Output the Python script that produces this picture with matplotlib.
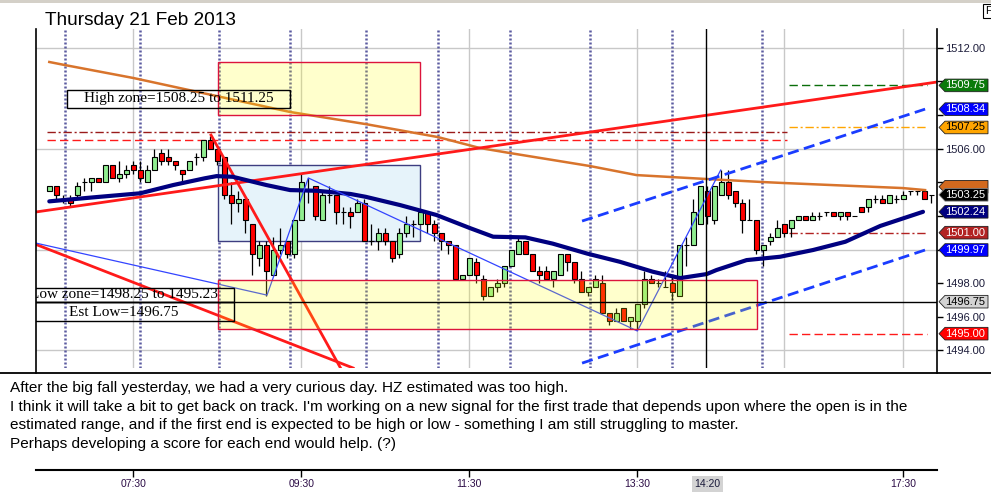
import numpy as np
import matplotlib
matplotlib.use("Agg")
import matplotlib.pyplot as plt
import matplotlib.transforms as mtransforms
from matplotlib.patches import Rectangle, Polygon
from matplotlib.lines import Line2D

plt.rcParams["font.family"] = ["Liberation Sans", "DejaVu Sans"]

W, H = 991, 498


def fx(px):
    return px / W


def fy(py):
    return 1 - py / H


# ---- data: 5 minute bars (bar index 0 = 06:30) ----
opens = [1503.5, 1503.75, 1503.0, 1503.0, 1503.25, 1504.0, 1504.0, 1504.25, 1504.0, 1505.0,
         1504.25, 1504.5, 1505.0, 1504.75, 1504.0, 1504.75, 1505.75, 1505.5, 1505.25, 1504.75,
         1504.75, 1505.5, 1505.5, 1506.5, 1506.0, 1505.5, 1503.25, 1502.75, 1503.0, 1501.5,
         1499.5, 1500.25, 1498.5, 1500.0, 1500.5, 1499.75, 1501.75, 1503.5, 1503.75, 1501.75,
         1503.25, 1503.25, 1502.25, 1502.25, 1502.25, 1502.75, 1500.5, 1500.5, 1501.0, 1500.5,
         1499.75, 1501.0, 1501.5, 1501.5, 1502.25, 1501.5, 1501.0, 1500.5, 1500.25, 1498.25,
         1498.5, 1499.25, 1498.25, 1497.25, 1497.75, 1498.0, 1499.0, 1499.75, 1500.5, 1499.75,
         1498.75, 1498.75, 1498.25, 1498.5, 1499.75, 1499.25, 1498.25, 1497.5, 1497.75, 1498.0,
         1496.25, 1495.75, 1496.5, 1495.75, 1495.75, 1496.75, 1498.25, 1498.0, 1497.75, 1498.0,
         1497.25, 1500.25, 1500.25, 1501.5, 1503.5, 1501.75, 1503.25, 1504.0, 1503.5, 1502.75,
         1501.75, 1501.75, 1500.0, 1500.5, 1500.75, 1501.5, 1501.25, 1501.75, 1502.0, 1501.75,
         1502.0, 1502.25, 1502.25, 1502.0, 1502.25, 1502.0, 1502.5, 1502.5, 1503.0, 1503.0,
         1502.75, 1503.0, 1503.0, 1503.5, 1503.5, 1503.5, 1503.25]
highs = [1503.75, 1503.75, 1503.25, 1503.25, 1504.0, 1504.25, 1504.25, 1504.25, 1505.0, 1505.0,
         1505.25, 1505.0, 1505.25, 1505.25, 1505.0, 1506.0, 1506.0, 1506.0, 1505.25, 1504.75,
         1505.25, 1505.75, 1506.5, 1506.75, 1506.0, 1505.5, 1504.0, 1503.5, 1503.0, 1501.5,
         1500.5, 1500.5, 1500.75, 1501.25, 1500.5, 1501.75, 1504.5, 1504.25, 1503.75, 1503.5,
         1503.75, 1503.25, 1502.5, 1502.5, 1503.0, 1503.0, 1501.5, 1501.25, 1501.25, 1500.5,
         1501.25, 1502.0, 1501.75, 1502.25, 1502.25, 1501.75, 1501.0, 1500.5, 1500.25, 1498.5,
         1499.5, 1499.5, 1498.5, 1497.75, 1498.25, 1499.0, 1500.0, 1500.75, 1500.5, 1499.75,
         1499.0, 1499.0, 1498.75, 1499.75, 1499.75, 1499.25, 1498.75, 1497.75, 1498.5, 1498.5,
         1496.25, 1496.5, 1496.5, 1496.0, 1496.75, 1498.75, 1498.5, 1498.25, 1498.75, 1498.5,
         1500.25, 1500.75, 1503.0, 1503.75, 1503.75, 1503.75, 1504.75, 1504.75, 1503.5, 1503.0,
         1503.0, 1501.75, 1500.25, 1501.0, 1501.75, 1501.5, 1501.75, 1502.0, 1502.0, 1502.25,
         1502.25, 1502.25, 1502.25, 1502.25, 1502.25, 1502.0, 1502.5, 1503.0, 1503.25, 1503.25,
         1503.25, 1503.25, 1503.5, 1503.5, 1503.5, 1503.5, 1503.25]
lows = [1503.5, 1503.0, 1502.75, 1502.5, 1503.0, 1503.5, 1503.5, 1504.0, 1504.0, 1504.25,
        1504.0, 1504.25, 1504.5, 1504.0, 1504.0, 1504.75, 1505.0, 1505.0, 1504.75, 1504.0,
        1504.75, 1505.0, 1505.25, 1506.0, 1505.0, 1503.0, 1501.5, 1502.25, 1501.0, 1498.5,
        1499.0, 1497.25, 1498.5, 1499.75, 1499.5, 1499.5, 1501.75, 1502.75, 1501.75, 1501.75,
        1502.75, 1501.5, 1501.5, 1501.25, 1502.25, 1500.5, 1500.25, 1500.0, 1500.25, 1499.25,
        1499.5, 1500.75, 1500.75, 1501.5, 1501.0, 1500.5, 1500.0, 1499.75, 1498.25, 1498.25,
        1498.5, 1498.0, 1497.0, 1497.25, 1497.5, 1497.75, 1499.0, 1499.75, 1499.75, 1498.75,
        1498.0, 1498.25, 1497.75, 1498.5, 1498.75, 1498.0, 1497.5, 1497.25, 1497.75, 1496.25,
        1495.5, 1495.75, 1495.75, 1495.25, 1495.25, 1496.5, 1498.0, 1497.75, 1497.75, 1497.0,
        1497.25, 1499.0, 1500.25, 1501.5, 1501.5, 1501.5, 1503.25, 1503.0, 1502.5, 1501.0,
        1501.75, 1499.75, 1499.0, 1500.25, 1500.75, 1500.75, 1500.75, 1501.75, 1501.75, 1501.75,
        1501.75, 1502.0, 1502.0, 1501.75, 1501.75, 1502.0, 1502.25, 1502.25, 1502.75, 1502.75,
        1502.75, 1502.75, 1503.0, 1503.25, 1503.25, 1503.0, 1502.75]
closes = [1503.75, 1503.25, 1503.0, 1502.75, 1503.75, 1504.0, 1504.25, 1504.0, 1505.0, 1504.25,
          1504.5, 1504.75, 1504.75, 1504.25, 1504.75, 1505.5, 1505.25, 1505.25, 1505.0, 1504.5,
          1505.25, 1505.5, 1506.5, 1506.0, 1505.25, 1503.25, 1502.75, 1503.0, 1501.75, 1499.75,
          1500.25, 1498.75, 1500.0, 1500.25, 1499.75, 1501.75, 1504.0, 1503.5, 1502.0, 1503.25,
          1503.25, 1502.25, 1502.25, 1502.0, 1502.75, 1500.5, 1500.5, 1501.0, 1500.5, 1499.5,
          1501.0, 1501.5, 1501.5, 1502.25, 1501.5, 1501.0, 1500.5, 1500.25, 1498.25, 1498.5,
          1499.5, 1498.5, 1497.25, 1497.75, 1498.0, 1499.0, 1500.0, 1500.5, 1499.75, 1498.75,
          1498.5, 1498.25, 1498.75, 1499.75, 1499.25, 1498.25, 1497.5, 1497.75, 1498.25, 1496.25,
          1495.75, 1496.25, 1495.75, 1496.0, 1496.75, 1498.25, 1498.0, 1498.0, 1497.75, 1497.5,
          1500.25, 1500.25, 1502.25, 1503.75, 1502.0, 1503.75, 1504.0, 1503.25, 1502.75, 1501.75,
          1501.75, 1500.0, 1500.25, 1500.75, 1501.25, 1501.0, 1501.75, 1502.0, 1501.75, 1502.0,
          1502.0, 1502.25, 1502.0, 1502.25, 1502.0, 1502.0, 1502.25, 1503.0, 1503.0, 1502.75,
          1503.25, 1503.0, 1503.25, 1503.5, 1503.5, 1503.0, 1503.25]

# moving averages (vertices)
fast_ma_x = [0, 5.8, 13, 17.7, 22.2, 23.9, 26.2, 31, 34.4, 38.2, 43, 45.2, 50.1, 55.3, 60.1,
             63.4, 68, 71.9, 76.8, 81.5, 86.2, 90.1, 93.9, 95.3, 99.6, 104.4, 109.1, 113.7,
             118.7, 124.8]
fast_ma_y = [1502.86, 1503.08, 1503.34, 1503.83, 1504.23, 1504.36, 1504.32, 1503.83, 1503.53,
             1503.49, 1503.3, 1503.13, 1502.64, 1502.05, 1501.27, 1500.76, 1500.72, 1500.35,
             1499.76, 1499.27, 1498.68, 1498.3, 1498.54, 1498.78, 1499.37, 1499.57, 1499.97,
             1500.46, 1501.4, 1502.24]
slow_ma_x = [0, 2.2, 12, 34.4, 45.2, 55.5, 61.5, 65.8, 77.2, 83.9, 93.8, 101.8, 104.9, 121.9, 125.1]
slow_ma_y = [1511.14, 1510.96, 1510.19, 1508.17, 1507.45, 1506.68, 1506.03, 1505.73, 1504.96,
             1504.42, 1504.19, 1504.01, 1503.95, 1503.65, 1503.53]

# drawn trend lines
red_trend_x = [-1.9, 126.8]
red_trend_y = [1502.23, 1509.95]
red_low_x = [-1.9, 43.4]
red_low_y = [1500.3, 1492.96]
red_steep_x = [23.1, 41.6]
red_steep_y = [1506.8, 1492.96]
zigzag_x = [-1.9, 31.1, 37.0, 84.0, 95.9]
zigzag_y = [1500.38, 1497.29, 1504.25, 1495.16, 1504.72]
channel_x = [76.1, 125.1]
channel_top_y = [1501.69, 1508.34]
channel_bot_y = [1493.25, 1499.97]

# horizontal levels: price, start bar, end bar
level_prices = [1507.0, 1506.5, 1509.75, 1507.25, 1501.0, 1495.0]
level_start = [-0.3, -0.3, 105.7, 105.7, 105.7, 105.7]
level_end = [105.4, 105.4, 125.4, 125.4, 125.4, 125.4]
level_colors = ["#9b1b1b", "#ff1a1a", "#0a6e0a", "#ffa500", "#b22222", "#ff1a1a"]
level_styles = [(0, (6, 2, 1.5, 2)), (0, (6, 3)), (0, (6, 3)),
                (0, (6, 2, 1.5, 2)), (0, (6, 2, 1.5, 2)), (0, (6, 3))]

# zones
high_zone = (1508.0, 1511.15)
mid_zone = (1500.5, 1505.02)
low_zone = (1495.25, 1498.2)
zone_start = 24.15
zone_end_short = 53.0
zone_end_long = 101.1

session_lines = [2.24, 12.96, 24.24, 34.39, 45.24, 55.53, 65.81, 77.24, 88.96, 101.81]
grid_x = [12, 36, 60, 84, 105, 122]
grid_y = [1494, 1500, 1506, 1512]
cross_x = 93.85
cross_y = 1496.9

price_ticks = [1494, 1496, 1498, 1500, 1502, 1504, 1506, 1508, 1510, 1512]
hidden_ticks = [1500, 1502, 1504, 1508, 1510]  # sit under the price tags

tag_prices = [1509.75, 1508.34, 1507.25, 1503.73, 1503.25, 1502.24, 1501.0, 1499.97, 1496.9, 1495.0]
tag_labels = ["1509.75", "1508.34", "1507.25", "", "1503.25", "1502.24", "1501.00",
              "1499.97", "1496.75", "1495.00"]
tag_colors = ["#0a7a0a", "#0000ff", "#ffa500", "#d2691e", "#000000", "#000080", "#b22222",
              "#0000ff", "#d3d3d3", "#ff0000"]
tag_text = ["white", "white", "black", "white", "white", "white", "white", "white", "black", "white"]

time_pos = [12, 36, 60, 84, 122]
time_labels = ["07:30", "09:30", "11:30", "13:30", "17:30"]
cursor_label = "14:20"

notes = [
    "After the big fall yesterday, we had a very curious day. HZ estimated was too high.",
    "I think it will take a bit to get back on track. I'm working on a new signal for the first trade that depends upon where the open is in the",
    "estimated range, and if the first end is expected to be high or low - something I am still struggling to master.",
    "Perhaps developing a score for each end would help. (?)",
]

# ---- figure ----
fig = plt.figure(figsize=(W / 100, H / 100), dpi=100)
fig.patch.set_facecolor("white")

ax = fig.add_axes([fx(36), fy(368), fx(937) - fx(36), fy(29) - fy(368)])
for s in ax.spines.values():
    s.set_visible(False)
ax.set_xticks([])
ax.yaxis.tick_right()
ax.set_yticks(price_ticks)
ax.set_yticklabels(["" if t in hidden_ticks else "%.2f" % t for t in price_ticks])
ax.tick_params(axis="y", length=4, width=1, pad=2, labelsize=8, labelcolor="#1c1c3a")

for g in grid_x:
    ax.axvline(g, color="#c8c8c8", lw=1, zorder=0.5)
for g in grid_y:
    ax.axhline(g, color="#c8c8c8", lw=1, zorder=0.5)
for v in session_lines:
    ax.axvline(v, color="#5b5ba0", lw=1.8, ls=(0, (0.8, 0.8)), zorder=1)

ax.add_patch(Rectangle((zone_start, mid_zone[0]), zone_end_short - zone_start,
                       mid_zone[1] - mid_zone[0], fc="#e6f3fa", ec="#3d3d80", lw=1, zorder=1.5))

for p, x0, x1, c, ls in zip(level_prices, level_start, level_end, level_colors, level_styles):
    ax.hlines(p, x0, x1, colors=c, linestyles=[ls], lw=1, zorder=2)

# candles
o = np.array(opens)
h = np.array(highs)
l = np.array(lows)
c = np.array(closes)
idx = np.arange(len(o))
body_col = np.where(c > o, "#90ee90", np.where(c < o, "#ff0000", "black"))
ax.vlines(idx, l, h, color="black", lw=0.9, zorder=3)
ax.bar(idx, c - o, bottom=o, width=0.7, color=body_col, edgecolor="black", linewidth=0.8, zorder=3.2)

ax.plot(slow_ma_x, slow_ma_y, color="#d8742c", lw=1.8, zorder=4)
ax.plot(fast_ma_x, fast_ma_y, color="#000080", lw=3, zorder=4.2, solid_capstyle="round")
ax.plot(red_trend_x, red_trend_y, color="#ff1a1a", lw=2, zorder=4.1)
ax.plot(red_low_x, red_low_y, color="#ff1a1a", lw=2, zorder=4.1)
ax.plot(red_steep_x, red_steep_y, color="#ff1a1a", lw=2, zorder=4.1)
ax.plot(zigzag_x, zigzag_y, color="#3344ff", lw=0.9, zorder=4.3)
ax.plot(channel_x, channel_top_y, color="#1a3cff", lw=2, ls=(0, (4, 2)), zorder=4.3)
ax.plot(channel_x, channel_bot_y, color="#1a3cff", lw=2, ls=(0, (4, 2)), zorder=4.3)

ax.add_patch(Rectangle((zone_start, high_zone[0]), zone_end_short - zone_start,
                       high_zone[1] - high_zone[0], fc=(1, 1, 0, 0.2), ec="#dc143c", lw=1, zorder=5))
ax.add_patch(Rectangle((zone_start, low_zone[0]), zone_end_long - zone_start,
                       low_zone[1] - low_zone[0], fc=(1, 1, 0, 0.2), ec="#dc143c", lw=1, zorder=5))

ax.axvline(cross_x, color="black", lw=1, zorder=5.5)
ax.axhline(cross_y, color="black", lw=1, zorder=5.5)

# annotation boxes
serif = ["Liberation Serif", "DejaVu Serif"]
ax.add_patch(Rectangle((2.5, 1508.41), 31.9, 1.06, fc="none", ec="black", lw=1, zorder=6))
ax.text(18.5, 1508.95, "High zone=1508.25 to 1511.25", family=serif, fontsize=11,
        ha="center", va="center", zorder=6)
ax.add_patch(Rectangle((-5.2, 1496.88), 31.6, 0.83, fc="none", ec="black", lw=1, zorder=6))
ax.add_patch(Rectangle((-5.2, 1495.75), 31.6, 1.13, fc="none", ec="black", lw=1, zorder=6))
ax.text(10.6, 1497.3, "Low zone=1498.25 to 1495.23", family=serif, fontsize=11,
        ha="center", va="center", zorder=6, clip_on=True)
ax.text(10.6, 1496.28, "Est Low=1496.75", family=serif, fontsize=11,
        ha="center", va="center", zorder=6, clip_on=True)

ax.set_xlim(-1.9, 126.8)
ax.set_ylim(1492.96, 1513.1)

# price tags on the right axis
trans = mtransforms.blended_transform_factory(fig.transFigure, ax.transData)
half = 6.3 / 16.83
for k, (p, lab, bg, fg) in enumerate(zip(tag_prices, tag_labels, tag_colors, tag_text)):
    verts = [(fx(939), p), (fx(945), p + half), (fx(988), p + half),
             (fx(988), p - half), (fx(945), p - half)]
    poly = Polygon(verts, closed=True, transform=trans, fc=bg,
                   ec="#808080" if bg == "#000000" else "#202020", lw=0.6, zorder=10 + k)
    fig.add_artist(poly)
    if lab:
        fig.text(fx(965.5), p, lab, transform=trans, color=fg, fontsize=8, ha="center",
                 va="center", zorder=10.5 + k)

# time axis
ax2 = fig.add_axes([fx(36), fy(470), fx(937) - fx(36), 0.0001])
ax2.patch.set_visible(False)
for side in ["top", "left", "right"]:
    ax2.spines[side].set_visible(False)
ax2.spines["bottom"].set_linewidth(1.5)
ax2.set_yticks([])
ax2.set_xlim(-1.9, 126.8)
ax2.set_xticks(time_pos)
ax2.set_xticklabels(time_labels, fontsize=7.5, color="#2b0b45")
ax2.tick_params(axis="x", length=5, width=1, pad=1.5)
ttrans = mtransforms.blended_transform_factory(ax2.transData, fig.transFigure)
fig.text(94, fy(484), cursor_label, transform=ttrans, fontsize=7.5, color="#1a1a3a",
         ha="center", va="center",
         bbox=dict(boxstyle="square,pad=0.25", fc="#d3d3d3", ec="none"))

# frame lines
fig.add_artist(Line2D([0, 1], [fy(373), fy(373)], transform=fig.transFigure, color="black", lw=1.3))
fig.add_artist(Line2D([fx(36), fx(36)], [fy(29), fy(373)], transform=fig.transFigure, color="black", lw=1.2))
fig.add_artist(Line2D([fx(937), fx(937)], [fy(29), fy(373)], transform=fig.transFigure, color="black", lw=1.2))
fig.add_artist(Rectangle((0, fy(3)), 1, 3 / H, transform=fig.transFigure, fc="#d4d0c8", ec="none"))

fig.text(fx(45), fy(25), "Thursday 21 Feb 2013", fontsize=13.7, va="baseline")
fig.text(fx(985), fy(11), "F", fontsize=8, va="center", ha="left",
         bbox=dict(boxstyle="square,pad=0.2", fc="white", ec="black", lw=0.8))

for n, line in enumerate(notes):
    fig.text(fx(10), fy(392 + 18.7 * n), line, fontsize=11.1, va="baseline")

fig.savefig("out.png", dpi=100)
